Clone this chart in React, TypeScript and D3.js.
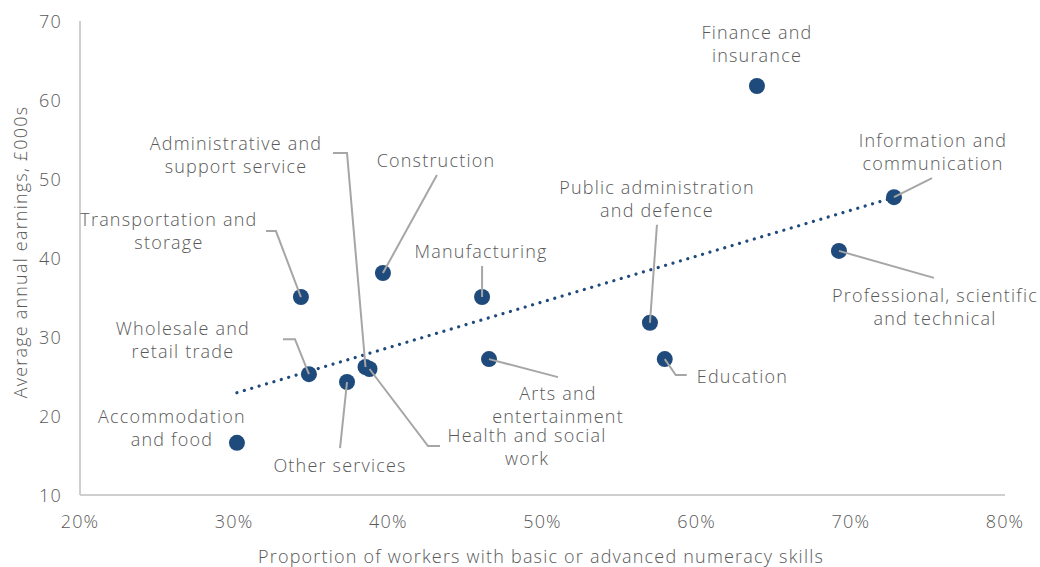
import React from "react";
import * as d3 from "d3";

// ---- Data ----
const sectors = [
  "Accommodation and food",
  "Transportation and storage",
  "Wholesale and retail trade",
  "Other services",
  "Administrative and support service",
  "Health and social work",
  "Construction",
  "Manufacturing",
  "Arts and entertainment",
  "Public administration and defence",
  "Education",
  "Finance and insurance",
  "Professional, scientific and technical",
  "Information and communication",
];
const numeracyPct = [30.18, 34.33, 34.85, 37.32, 38.52, 38.78, 39.65, 46.08, 46.53, 56.97, 57.93, 63.91, 69.23, 72.8];
const earningsK = [16.6, 35.06, 25.3, 24.3, 26.2, 25.95, 38.1, 35.06, 27.2, 31.8, 27.2, 61.77, 40.9, 47.7];
const xTicks = [20, 30, 40, 50, 60, 70, 80];
const yTicks = [10, 20, 30, 40, 50, 60, 70];

// ---- Annotation layout (pixel offsets relative to each point) ----
type Ann = { lines: string[]; dx: number; dy: number; anchor: string; leader: [number, number][] };
const annotations: Ann[] = [
  { lines: ["Accommodation", "and food"], dx: -65, dy: -27, anchor: "middle", leader: [] },
  { lines: ["Transportation and", "storage"], dx: -132, dy: -78, anchor: "middle", leader: [[-35, -66], [-25, -66]] },
  { lines: ["Wholesale and", "retail trade"], dx: -126, dy: -46, anchor: "middle", leader: [[-26, -35], [-14, -35]] },
  { lines: ["Other services"], dx: -7, dy: 83, anchor: "middle", leader: [[-7, 66]] },
  { lines: ["Administrative and", "support service"], dx: -129.5, dy: -224, anchor: "middle", leader: [[-32.5, -214], [-18.5, -214]] },
  { lines: ["Health and social", "work"], dx: 157.5, dy: 66, anchor: "middle", leader: [[70.5, 77], [58.5, 77]] },
  { lines: ["Construction"], dx: 53, dy: -113, anchor: "middle", leader: [[54, -98]] },
  { lines: ["Manufacturing"], dx: -1, dy: -46, anchor: "middle", leader: [[0, -31]] },
  { lines: ["Arts and", "entertainment"], dx: 69, dy: 34, anchor: "middle", leader: [[69, 18]] },
  { lines: ["Public administration", "and defence"], dx: 7, dy: -136, anchor: "middle", leader: [[7, -98]] },
  { lines: ["Education"], dx: 32, dy: 17, anchor: "start", leader: [[22, 16], [11, 16]] },
  { lines: ["Finance and", "insurance"], dx: 0, dy: -54, anchor: "middle", leader: [] },
  { lines: ["Professional, scientific", "and technical"], dx: 96, dy: 44, anchor: "middle", leader: [[95, 27]] },
  { lines: ["Information and", "communication"], dx: 39, dy: -57, anchor: "middle", leader: [[38, -19]] },
];

const W = 1040;
const H = 567;
const margin = { left: 80, right: 35, top: 21, bottom: 72 };
const FONT = "'Open Sans', 'DejaVu Sans', sans-serif";
const TEXT = "#595959";
const AXIS = "#bfbfbf";
const DOT = "#1f4a7c";
const LEADER = "#a6a6a6";

export default function App() {
  const x = d3.scaleLinear().domain([20, 80]).range([margin.left, W - margin.right]);
  const y = d3.scaleLinear().domain([10, 70]).range([H - margin.bottom, margin.top]);

  // least-squares trend line
  const mx = d3.mean(numeracyPct)!;
  const my = d3.mean(earningsK)!;
  let sxy = 0, sxx = 0;
  numeracyPct.forEach((v, i) => {
    sxy += (v - mx) * (earningsK[i] - my);
    sxx += (v - mx) * (v - mx);
  });
  const slope = sxy / sxx;
  const icpt = my - slope * mx;
  const x0 = d3.min(numeracyPct)!;
  const x1 = d3.max(numeracyPct)!;
  const trend = d3.line<number>().x((d) => x(d)).y((d) => y(icpt + slope * d))([x0, x1]) || "";

  const fs = 18;
  const lh = 23;
  const ls = 1.2;
  const fw = 300;

  return (
    <svg width={W} height={H} style={{ position: "absolute", left: 0, top: 0, background: "#fff" }} fontFamily={FONT} fontWeight={fw} letterSpacing={ls}>
      {/* axes */}
      <line x1={x(20)} x2={x(20)} y1={y(70)} y2={y(10)} stroke={AXIS} strokeWidth={1.5} />
      <line x1={x(20)} x2={x(80)} y1={y(10)} y2={y(10)} stroke={AXIS} strokeWidth={1.5} />
      {yTicks.map((t) => (
        <text key={"y" + t} x={62} y={y(t)} textAnchor="end" dominantBaseline="central" fontSize={fs} fill={TEXT}>
          {t}
        </text>
      ))}
      {xTicks.map((t) => (
        <text key={"x" + t} x={x(t)} y={521} textAnchor="middle" dominantBaseline="central" fontSize={fs} fill={TEXT}>
          {t + "%"}
        </text>
      ))}
      <text x={541} y={556} textAnchor="middle" dominantBaseline="central" fontSize={fs} fill={TEXT}>
        Proportion of workers with basic or advanced numeracy skills
      </text>
      <text
        transform={`translate(20, ${252}) rotate(-90)`}
        textAnchor="middle"
        dominantBaseline="central"
        fontSize={fs}
        fill={TEXT}
      >
        Average annual earnings, £000s
      </text>

      {/* trend line */}
      <path d={trend} fill="none" stroke={DOT} strokeWidth={3.2} strokeLinecap="round" strokeDasharray="0.01 7.7" />

      {/* points */}
      {numeracyPct.map((v, i) => (
        <circle key={"c" + i} cx={x(v)} cy={y(earningsK[i])} r={8} fill={DOT} />
      ))}

      {/* leaders */}
      {annotations.map((a, i) => {
        if (!a.leader.length) return null;
        const cx = x(numeracyPct[i]);
        const cy = y(earningsK[i]);
        const pts: [number, number][] = [...a.leader.map(([dx, dy]) => [cx + dx, cy + dy] as [number, number]), [cx, cy]];
        return <path key={"l" + i} d={d3.line()(pts) || ""} fill="none" stroke={LEADER} strokeWidth={2} />;
      })}

      {/* labels */}
      {annotations.map((a, i) => {
        const cx = x(numeracyPct[i]);
        const cy = y(earningsK[i]);
        return (
          <text key={"t" + i} textAnchor={a.anchor} fontSize={fs} fill={TEXT}>
            {a.lines.map((ln, k) => (
              <tspan key={k} x={cx + a.dx} y={cy + a.dy + k * lh} dominantBaseline="central">
                {ln}
              </tspan>
            ))}
          </text>
        );
      })}
    </svg>
  );
}
